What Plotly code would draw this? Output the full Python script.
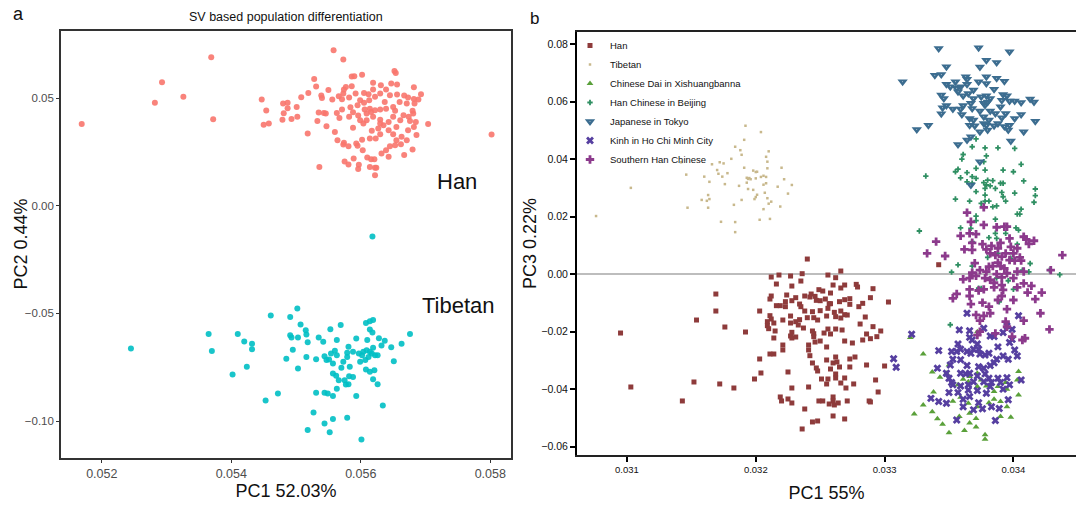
import plotly.graph_objects as go

# ---------------- Panel a : SV based PCA (PC1 vs PC2) ----------------
han_a = [
    (0.05169, 0.0381), (0.05369, 0.0691), (0.05293, 0.0575), (0.05282, 0.0479), (0.05326, 0.0507),
    (0.05372, 0.0403), (0.05802, 0.0332), (0.05558, 0.0724), (0.05573, 0.0680),
    (0.05447, 0.0494), (0.05454, 0.0443), (0.05450, 0.0377), (0.05458, 0.0383), (0.05480, 0.0476),
    (0.05487, 0.0479), (0.05487, 0.0454), (0.05481, 0.0431), (0.05479, 0.0400), (0.05493, 0.0404),
    (0.05501, 0.0460), (0.05502, 0.0414), (0.05508, 0.0505), (0.05519, 0.0525), (0.05518, 0.0336),
    (0.05528, 0.0590), (0.05531, 0.0555), (0.05550, 0.0539), (0.05539, 0.0513), (0.05540, 0.0502),
    (0.05535, 0.0434), (0.05543, 0.0432), (0.05546, 0.0429), (0.05533, 0.0395), (0.05547, 0.0370),
    (0.05560, 0.0344), (0.05556, 0.0494), (0.05566, 0.0510), (0.05573, 0.0522), (0.05571, 0.0496),
    (0.05574, 0.0541), (0.05577, 0.0553), (0.05586, 0.0601), (0.05590, 0.0603), (0.05602, 0.0610),
    (0.05586, 0.0556), (0.05592, 0.0522), (0.05582, 0.0504), (0.05599, 0.0491), (0.05605, 0.0525),
    (0.05612, 0.0519), (0.05619, 0.0572), (0.05619, 0.0541), (0.05631, 0.0561), (0.05639, 0.0541),
    (0.05647, 0.0569), (0.05656, 0.0564), (0.05652, 0.0627), (0.05654, 0.0618), (0.05682, 0.0552),
    (0.05693, 0.0519), (0.05689, 0.0494), (0.05682, 0.0497), (0.05673, 0.0504), (0.05667, 0.0513),
    (0.05656, 0.0518), (0.05645, 0.0514), (0.05630, 0.0522), (0.05622, 0.0507), (0.05613, 0.0491),
    (0.05605, 0.0479), (0.05595, 0.0468), (0.05584, 0.0459), (0.05571, 0.0448), (0.05563, 0.0432),
    (0.05567, 0.0409), (0.05582, 0.0414), (0.05588, 0.0435), (0.05596, 0.0420), (0.05599, 0.0398),
    (0.05609, 0.0429), (0.05616, 0.0437), (0.05622, 0.0445), (0.05630, 0.0448), (0.05639, 0.0452),
    (0.05650, 0.0460), (0.05660, 0.0483), (0.05671, 0.0476), (0.05680, 0.0442), (0.05681, 0.0429),
    (0.05676, 0.0395), (0.05685, 0.0390), (0.05682, 0.0367), (0.05686, 0.0330), (0.05673, 0.0352),
    (0.05671, 0.0305), (0.05663, 0.0321), (0.05662, 0.0287), (0.05655, 0.0305), (0.05653, 0.0282),
    (0.05645, 0.0277), (0.05639, 0.0259), (0.05632, 0.0243), (0.05643, 0.0228), (0.05667, 0.0236),
    (0.05680, 0.0262), (0.05704, 0.0381), (0.05588, 0.0363), (0.05604, 0.0383), (0.05617, 0.0349),
    (0.05627, 0.0360), (0.05635, 0.0375), (0.05643, 0.0352), (0.05650, 0.0333), (0.05630, 0.0333),
    (0.05623, 0.0313), (0.05614, 0.0313), (0.05602, 0.0308), (0.05593, 0.0290), (0.05595, 0.0279),
    (0.05603, 0.0259), (0.05574, 0.0293), (0.05573, 0.0285), (0.05581, 0.0277), (0.05564, 0.0305),
    (0.05610, 0.0225), (0.05616, 0.0217), (0.05621, 0.0217), (0.05589, 0.0220), (0.05575, 0.0206),
    (0.05581, 0.0192), (0.05597, 0.0191), (0.05596, 0.0171), (0.05614, 0.0181), (0.05622, 0.0177),
    (0.05624, 0.0177), (0.05622, 0.0143), (0.05536, 0.0181), (0.05609, 0.0398), (0.05619, 0.0414),
    (0.05630, 0.0401), (0.05650, 0.0414), (0.05661, 0.0398), (0.05655, 0.0367), (0.05643, 0.0390),
    (0.05630, 0.0383), (0.05614, 0.0452), (0.05606, 0.0448), (0.05637, 0.0483), (0.05653, 0.0442),
    (0.05666, 0.0421), (0.05674, 0.0414), (0.05683, 0.0476),
]

tibetan_a = [
    (0.05618, -0.0142), (0.05245, -0.0663), (0.05365, -0.0595), (0.05370, -0.0675), (0.05410, -0.0596),
    (0.05420, -0.0630), (0.05432, -0.0641), (0.05432, -0.0666), (0.05424, -0.0748), (0.05402, -0.0784),
    (0.05453, -0.0905), (0.05472, -0.0872), (0.05461, -0.0510), (0.05491, -0.0517), (0.05502, -0.0477),
    (0.05507, -0.0551), (0.05515, -0.0578), (0.05516, -0.0598), (0.05491, -0.0601), (0.05493, -0.0612),
    (0.05503, -0.0612), (0.05518, -0.0634), (0.05495, -0.0669), (0.05485, -0.0711), (0.05503, -0.0756),
    (0.05516, -0.0702), (0.05531, -0.0713), (0.05535, -0.0612), (0.05542, -0.0632), (0.05553, -0.0573),
    (0.05569, -0.0554), (0.05563, -0.0623), (0.05544, -0.0699), (0.05551, -0.0714), (0.05554, -0.0686),
    (0.05560, -0.0674), (0.05563, -0.0694), (0.05557, -0.0733), (0.05570, -0.0753), (0.05579, -0.0683),
    (0.05579, -0.0702), (0.05581, -0.0655), (0.05588, -0.0678), (0.05593, -0.0616), (0.05597, -0.0686),
    (0.05602, -0.0694), (0.05607, -0.0717), (0.05612, -0.0702), (0.05617, -0.0686), (0.05622, -0.0694),
    (0.05610, -0.0624), (0.05619, -0.0660), (0.05628, -0.0615), (0.05637, -0.0627), (0.05632, -0.0649),
    (0.05626, -0.0694), (0.05647, -0.0657), (0.05663, -0.0641), (0.05676, -0.0595), (0.05651, -0.0722),
    (0.05608, -0.0544), (0.05614, -0.0536), (0.05619, -0.0531), (0.05614, -0.0575), (0.05618, -0.0589),
    (0.05608, -0.0761), (0.05614, -0.0771), (0.05621, -0.0764), (0.05619, -0.0806), (0.05626, -0.0829),
    (0.05634, -0.0928), (0.05557, -0.0779), (0.05562, -0.0790), (0.05566, -0.0810), (0.05575, -0.0810),
    (0.05582, -0.0792), (0.05588, -0.0795), (0.05581, -0.0829), (0.05577, -0.0830), (0.05563, -0.0850),
    (0.05557, -0.0884), (0.05544, -0.0869), (0.05549, -0.0872), (0.05531, -0.0869), (0.05593, -0.0884),
    (0.05527, -0.0960), (0.05544, -0.1012), (0.05557, -0.0991), (0.05579, -0.0985), (0.05518, -0.1042),
    (0.05552, -0.1052), (0.05601, -0.1086), (0.05547, -0.0717), (0.05573, -0.0725), (0.05583, -0.0748),
    (0.05599, -0.0725), (0.05604, -0.0678), (0.05614, -0.0678), (0.05609, -0.0671),
]

# ---------------- Panel b : PC1 vs PC3 with 1000 Genomes EAS ----------------
han_b = [
    (0.03240, 0.00525), (0.03266, 0.00108), (0.03218, -0.00031), (0.03227, -0.00066), (0.03236, 0.00015),
    (0.03256, -0.00031), (0.03262, -0.00124), (0.03212, -0.00101), (0.03235, -0.00240), (0.03216, -0.00344),
    (0.03228, -0.00414), (0.03260, -0.00379), (0.03266, -0.00483), (0.03269, -0.00379), (0.03278, -0.00356),
    (0.03279, -0.00448), (0.03291, -0.00506), (0.03169, -0.00692), (0.03249, -0.00541), (0.03252, -0.00588),
    (0.03258, -0.00657), (0.03243, -0.00692), (0.03238, -0.00761), (0.03224, -0.00726), (0.03212, -0.00761),
    (0.03211, -0.00866), (0.03231, -0.00819), (0.03228, -0.00924), (0.03242, -0.00796), (0.03246, -0.00773),
    (0.03247, -0.00912), (0.03250, -0.00924), (0.03254, -0.00866), (0.03257, -0.01028), (0.03258, -0.01028),
    (0.03265, -0.00958), (0.03269, -0.00889), (0.03273, -0.00854), (0.03273, -0.01051), (0.03280, -0.01132),
    (0.03283, -0.01016), (0.03289, -0.00819), (0.03303, -0.00970), (0.03223, -0.00958), (0.03216, -0.01097),
    (0.03219, -0.01097), (0.03223, -0.01132), (0.03234, -0.01040), (0.03235, -0.01132), (0.03238, -0.01283),
    (0.03244, -0.01306), (0.03250, -0.01271), (0.03256, -0.01190), (0.03266, -0.01283), (0.03169, -0.01283),
    (0.03203, -0.01283), (0.03211, -0.01445), (0.03212, -0.01561), (0.03227, -0.01457), (0.03221, -0.01596),
    (0.03231, -0.01654), (0.03234, -0.01584), (0.03240, -0.01515), (0.03245, -0.01515), (0.03248, -0.01596),
    (0.03255, -0.01457), (0.03261, -0.01329), (0.03262, -0.01480), (0.03266, -0.01526), (0.03269, -0.01410),
    (0.03271, -0.01422), (0.03285, -0.01491), (0.03154, -0.01596), (0.03209, -0.01654), (0.03214, -0.01700),
    (0.03209, -0.01793), (0.03210, -0.01897), (0.03227, -0.01700), (0.03233, -0.01769), (0.03237, -0.01874),
    (0.03176, -0.01839), (0.03192, -0.02013), (0.03095, -0.02048), (0.03215, -0.01978), (0.03214, -0.02221),
    (0.03228, -0.02024), (0.03227, -0.02152), (0.03228, -0.02221), (0.03231, -0.02187), (0.03244, -0.01978),
    (0.03245, -0.02071), (0.03245, -0.02175), (0.03253, -0.02048), (0.03256, -0.01909), (0.03258, -0.02082),
    (0.03262, -0.01909), (0.03267, -0.01943), (0.03281, -0.01735), (0.03286, -0.02082), (0.03291, -0.01827),
    (0.03297, -0.01978), (0.03294, -0.02175), (0.03289, -0.02245), (0.03283, -0.02291), (0.03275, -0.02395),
    (0.03269, -0.02326), (0.03250, -0.02326), (0.03246, -0.02361), (0.03241, -0.02465), (0.03241, -0.02638),
    (0.03221, -0.02465), (0.03221, -0.02638), (0.03211, -0.02778), (0.03214, -0.02778), (0.03255, -0.02534),
    (0.03242, -0.02836), (0.03203, -0.02951), (0.03262, -0.02882), (0.03255, -0.02986), (0.03260, -0.03090),
    (0.03263, -0.03056), (0.03277, -0.02882), (0.03273, -0.02951), (0.03244, -0.03090), (0.03247, -0.03264),
    (0.03248, -0.03368), (0.03258, -0.03299), (0.03265, -0.03229), (0.03273, -0.03229), (0.03286, -0.03160),
    (0.03300, -0.03195), (0.03204, -0.03438), (0.03225, -0.03403), (0.03251, -0.03647), (0.03256, -0.03647),
    (0.03262, -0.03473), (0.03262, -0.03612), (0.03269, -0.03612), (0.03266, -0.03786), (0.03255, -0.03820),
    (0.03276, -0.03820), (0.03270, -0.03960), (0.03293, -0.03681), (0.03295, -0.04099), (0.03199, -0.03647),
    (0.03152, -0.03751), (0.03172, -0.03820), (0.03183, -0.03960), (0.03103, -0.03925), (0.03228, -0.03960),
    (0.03241, -0.03925), (0.03143, -0.04411), (0.03219, -0.04272), (0.03220, -0.04411), (0.03225, -0.04342),
    (0.03228, -0.04481), (0.03249, -0.04411), (0.03252, -0.04411), (0.03260, -0.04272), (0.03260, -0.04411),
    (0.03257, -0.04516), (0.03261, -0.04550), (0.03264, -0.04481), (0.03271, -0.04411), (0.03288, -0.04411),
    (0.03289, -0.04446), (0.03238, -0.04690), (0.03260, -0.04933), (0.03269, -0.05037), (0.03244, -0.05141),
    (0.03248, -0.05107), (0.03236, -0.05385), (0.03342, 0.00327),
]

tibetan_b = [
    (0.03076, 0.0202), (0.03103, 0.0300), (0.03142, 0.0389), (0.03146, 0.0346), (0.03147, 0.0231),
    (0.03158, 0.0258), (0.03160, 0.0339), (0.03162, 0.0255), (0.03163, 0.0231), (0.03163, 0.0275),
    (0.03164, 0.0261), (0.03164, 0.0321), (0.03166, 0.0382), (0.03170, 0.0362), (0.03172, 0.0389),
    (0.03171, 0.0349), (0.03175, 0.0385), (0.03174, 0.0339), (0.03176, 0.0313), (0.03178, 0.0351),
    (0.03181, 0.0401), (0.03173, 0.0182), (0.03184, 0.0181), (0.03184, 0.0146), (0.03183, 0.0241),
    (0.03187, 0.0307), (0.03188, 0.0431), (0.03189, 0.0415), (0.03191, 0.0467), (0.03192, 0.0516),
    (0.03191, 0.0370), (0.03189, 0.0258), (0.03193, 0.0318), (0.03193, 0.0335), (0.03194, 0.0331),
    (0.03195, 0.0334), (0.03196, 0.0330), (0.03194, 0.0296), (0.03198, 0.0293), (0.03198, 0.0360),
    (0.03200, 0.0355), (0.03201, 0.0356), (0.03200, 0.0333), (0.03200, 0.0268), (0.03199, 0.0261),
    (0.03201, 0.0276), (0.03203, 0.0189), (0.03204, 0.0494), (0.03204, 0.0338), (0.03206, 0.0342),
    (0.03208, 0.0338), (0.03206, 0.0311), (0.03207, 0.0283), (0.03208, 0.0408), (0.03209, 0.0391),
    (0.03210, 0.0427), (0.03209, 0.0368), (0.03208, 0.0316), (0.03209, 0.0264), (0.03210, 0.0245),
    (0.03212, 0.0252), (0.03206, 0.0226), (0.03211, 0.0192), (0.03217, 0.0304), (0.03184, 0.0443),
    (0.03222, 0.0330), (0.03225, 0.0280), (0.03220, 0.0370), (0.03228, 0.0310), (0.03219, 0.0235),
]

dai_b = [
    (0.03320, -0.0220), (0.03330, -0.0278), (0.03337, -0.0340), (0.03343, -0.0359), (0.03350, -0.0316),
    (0.03357, -0.0385), (0.03361, -0.0366), (0.03365, -0.0374), (0.03359, -0.0391), (0.03366, -0.0356),
    (0.03372, -0.0345), (0.03379, -0.0389), (0.03385, -0.0408), (0.03395, -0.0400), (0.03404, -0.0339),
    (0.03403, -0.0368), (0.03404, -0.0420), (0.03338, -0.0410), (0.03330, -0.0455), (0.03323, -0.0486),
    (0.03337, -0.0479), (0.03341, -0.0503), (0.03345, -0.0522), (0.03350, -0.0552), (0.03362, -0.0544),
    (0.03366, -0.0518), (0.03371, -0.0532), (0.03371, -0.0502), (0.03366, -0.0484), (0.03358, -0.0495),
    (0.03353, -0.0442), (0.03359, -0.0428), (0.03365, -0.0449), (0.03372, -0.0461), (0.03381, -0.0447),
    (0.03385, -0.0435), (0.03390, -0.0443), (0.03395, -0.0461), (0.03390, -0.0495), (0.03398, -0.0498),
    (0.03378, -0.0559), (0.03378, -0.0574), (0.03372, -0.0391), (0.03388, -0.0391), (0.03394, -0.0377),
    (0.03375, -0.0368), (0.03348, -0.0345), (0.03372, -0.0200),
]

beijing_b = [
    (0.03371, 0.0470), (0.03368, 0.0443), (0.03378, 0.0439), (0.03388, 0.0439), (0.03401, 0.0437),
    (0.03361, 0.0416), (0.03360, 0.0400), (0.03379, 0.0411), (0.03377, 0.0391), (0.03332, 0.0341),
    (0.03357, 0.0365), (0.03355, 0.0356), (0.03364, 0.0353), (0.03359, 0.0335), (0.03371, 0.0368),
    (0.03378, 0.0362), (0.03392, 0.0362), (0.03400, 0.0356), (0.03406, 0.0382), (0.03368, 0.0339),
    (0.03371, 0.0333), (0.03364, 0.0321), (0.03368, 0.0316), (0.03377, 0.0318), (0.03380, 0.0327),
    (0.03384, 0.0325), (0.03379, 0.0310), (0.03382, 0.0307), (0.03386, 0.0298), (0.03390, 0.0316),
    (0.03392, 0.0316), (0.03378, 0.0298), (0.03371, 0.0287), (0.03391, 0.0284), (0.03401, 0.0282),
    (0.03408, 0.0324), (0.03417, 0.0296), (0.03417, 0.0273), (0.03416, 0.0250), (0.03392, 0.0269),
    (0.03394, 0.0254), (0.03378, 0.0275), (0.03378, 0.0254), (0.03381, 0.0254), (0.03355, 0.0261),
    (0.03366, 0.0254), (0.03375, 0.0246), (0.03384, 0.0234), (0.03387, 0.0237), (0.03406, 0.0226),
    (0.03403, 0.0209), (0.03405, 0.0209), (0.03371, 0.0202), (0.03371, 0.0186), (0.03386, 0.0191),
    (0.03359, 0.0161), (0.03367, 0.0159), (0.03402, 0.0161), (0.03404, 0.0153), (0.03327, 0.0150),
    (0.03386, 0.0142), (0.03394, 0.0142), (0.03368, 0.0113), (0.03381, 0.0127), (0.03387, 0.0124),
    (0.03403, 0.0104), (0.03357, 0.0032), (0.03352, 0.0007), (0.03368, 0.0028), (0.03380, 0.0058),
    (0.03388, 0.0072), (0.03398, 0.0055), (0.03407, 0.0014), (0.03413, 0.0037), (0.03412, 0.0008),
    (0.03428, 0.0014), (0.03436, -0.0002), (0.03387, -0.0014), (0.03396, -0.0023), (0.03373, -0.0049),
    (0.03375, -0.0050), (0.03400, -0.0053), (0.03389, -0.0096), (0.03351, -0.0176),
]

japanese_b = [
    (0.03342, 0.0785), (0.03373, 0.0787), (0.03397, 0.0773), (0.03379, 0.0744), (0.03387, 0.0736),
    (0.03348, 0.0721), (0.03374, 0.0720), (0.03339, 0.0692), (0.03344, 0.0694), (0.03314, 0.0669),
    (0.03348, 0.0660), (0.03355, 0.0669), (0.03363, 0.0686), (0.03364, 0.0678), (0.03373, 0.0669),
    (0.03379, 0.0686), (0.03379, 0.0663), (0.03387, 0.0681), (0.03393, 0.0671), (0.03351, 0.0652),
    (0.03356, 0.0646), (0.03359, 0.0652), (0.03364, 0.0660), (0.03369, 0.0640), (0.03385, 0.0643),
    (0.03344, 0.0623), (0.03346, 0.0611), (0.03357, 0.0634), (0.03361, 0.0620), (0.03365, 0.0628),
    (0.03369, 0.0611), (0.03375, 0.0617), (0.03379, 0.0620), (0.03382, 0.0611), (0.03392, 0.0625),
    (0.03395, 0.0620), (0.03391, 0.0605), (0.03397, 0.0602), (0.03401, 0.0602), (0.03406, 0.0597),
    (0.03413, 0.0609), (0.03416, 0.0599), (0.03345, 0.0579), (0.03348, 0.0586), (0.03353, 0.0574),
    (0.03359, 0.0574), (0.03361, 0.0586), (0.03367, 0.0594), (0.03368, 0.0576), (0.03377, 0.0594),
    (0.03378, 0.0588), (0.03380, 0.0599), (0.03374, 0.0567), (0.03382, 0.0567), (0.03386, 0.0559),
    (0.03390, 0.0582), (0.03394, 0.0559), (0.03344, 0.0558), (0.03360, 0.0555), (0.03366, 0.0541),
    (0.03369, 0.0536), (0.03377, 0.0547), (0.03381, 0.0536), (0.03391, 0.0544), (0.03401, 0.0541),
    (0.03406, 0.0555), (0.03417, 0.0532), (0.03325, 0.0503), (0.03334, 0.0518), (0.03366, 0.0518),
    (0.03370, 0.0516), (0.03377, 0.0524), (0.03379, 0.0518), (0.03385, 0.0516), (0.03388, 0.0524),
    (0.03393, 0.0513), (0.03397, 0.0518), (0.03396, 0.0501), (0.03374, 0.0495), (0.03380, 0.0501),
    (0.03408, 0.0495), (0.03367, 0.0478), (0.03364, 0.0466), (0.03357, 0.0451), (0.03398, 0.0463),
    (0.03374, 0.0391), (0.03367, 0.0310),
]

kinh_b = [
    (0.03321, -0.0209), (0.03307, -0.0294), (0.03309, -0.0324), (0.03342, -0.0266), (0.03364, -0.0136),
    (0.03358, -0.0194), (0.03366, -0.0197), (0.03377, -0.0188), (0.03404, -0.0145), (0.03395, -0.0180),
    (0.03399, -0.0192), (0.03392, -0.0203), (0.03382, -0.0215), (0.03385, -0.0217), (0.03366, -0.0220),
    (0.03368, -0.0229), (0.03372, -0.0243), (0.03357, -0.0243), (0.03352, -0.0269), (0.03356, -0.0269),
    (0.03359, -0.0261), (0.03364, -0.0269), (0.03367, -0.0275), (0.03369, -0.0261), (0.03373, -0.0261),
    (0.03374, -0.0278), (0.03378, -0.0281), (0.03381, -0.0275), (0.03388, -0.0253), (0.03392, -0.0285),
    (0.03397, -0.0238), (0.03399, -0.0227), (0.03401, -0.0264), (0.03403, -0.0285), (0.03396, -0.0296),
    (0.03387, -0.0296), (0.03385, -0.0308), (0.03382, -0.0318), (0.03377, -0.0327), (0.03373, -0.0322),
    (0.03364, -0.0318), (0.03359, -0.0298), (0.03353, -0.0296), (0.03351, -0.0316), (0.03348, -0.0345),
    (0.03341, -0.0327), (0.03350, -0.0362), (0.03352, -0.0377), (0.03359, -0.0345), (0.03363, -0.0347),
    (0.03366, -0.0345), (0.03372, -0.0354), (0.03378, -0.0347), (0.03381, -0.0362), (0.03383, -0.0377),
    (0.03388, -0.0362), (0.03395, -0.0360), (0.03397, -0.0385), (0.03406, -0.0368), (0.03390, -0.0377),
    (0.03382, -0.0391), (0.03377, -0.0374), (0.03369, -0.0374), (0.03365, -0.0385), (0.03359, -0.0389),
    (0.03353, -0.0385), (0.03350, -0.0412), (0.03357, -0.0412), (0.03365, -0.0403), (0.03366, -0.0426),
    (0.03361, -0.0435), (0.03336, -0.0432), (0.03342, -0.0443), (0.03348, -0.0449), (0.03361, -0.0461),
    (0.03369, -0.0472), (0.03373, -0.0447), (0.03376, -0.0468), (0.03383, -0.0461), (0.03389, -0.0467),
    (0.03396, -0.0437), (0.03386, -0.0509), (0.03356, -0.0507), (0.03372, -0.0405), (0.03392, -0.0400),
    (0.03379, -0.0414),
]

southern_han_b = [
    (0.03364, 0.0214), (0.03377, 0.0232), (0.03367, 0.0182), (0.03377, 0.0171), (0.03387, 0.0163),
    (0.03393, 0.0165), (0.03395, 0.0165), (0.03359, 0.0133), (0.03366, 0.0142), (0.03371, 0.0139),
    (0.03340, 0.0113), (0.03333, 0.0072), (0.03347, 0.0063), (0.03362, 0.0086), (0.03368, 0.0084),
    (0.03368, 0.0109), (0.03376, 0.0104), (0.03379, 0.0086), (0.03383, 0.0098), (0.03388, 0.0090),
    (0.03390, 0.0109), (0.03397, 0.0124), (0.03398, 0.0095), (0.03403, 0.0090), (0.03408, 0.0130),
    (0.03410, 0.0121), (0.03416, 0.0116), (0.03412, 0.0105), (0.03382, 0.0072), (0.03386, 0.0066),
    (0.03391, 0.0061), (0.03394, 0.0072), (0.03400, 0.0072), (0.03405, 0.0058), (0.03406, 0.0047),
    (0.03401, 0.0047), (0.03397, 0.0049), (0.03388, 0.0040), (0.03390, 0.0028), (0.03393, 0.0020),
    (0.03384, 0.0028), (0.03381, 0.0026), (0.03370, 0.0038), (0.03368, 0.0005), (0.03374, 0.0014),
    (0.03379, 0.0009), (0.03387, 0.0000), (0.03395, 0.0003), (0.03403, 0.0009), (0.03408, 0.0009),
    (0.03429, 0.0014), (0.03438, 0.0066), (0.03361, -0.0018), (0.03366, -0.0014), (0.03371, -0.0006),
    (0.03378, -0.0014), (0.03382, -0.0020), (0.03385, -0.0030), (0.03391, -0.0011), (0.03400, -0.0014),
    (0.03408, -0.0032), (0.03414, -0.0041), (0.03422, -0.0064), (0.03417, -0.0087), (0.03411, -0.0064),
    (0.03403, -0.0046), (0.03392, -0.0055), (0.03391, -0.0038), (0.03385, -0.0046), (0.03377, -0.0053),
    (0.03373, -0.0057), (0.03366, -0.0053), (0.03366, -0.0076), (0.03356, -0.0069), (0.03353, -0.0084),
    (0.03376, -0.0099), (0.03381, -0.0113), (0.03388, -0.0090), (0.03391, -0.0076), (0.03400, -0.0090),
    (0.03395, -0.0122), (0.03382, -0.0136), (0.03377, -0.0145), (0.03371, -0.0142), (0.03367, -0.0104),
    (0.03374, -0.0162), (0.03421, -0.0136), (0.03408, -0.0162), (0.03394, -0.0165), (0.03428, -0.0192),
    (0.03409, -0.0223), (0.03407, -0.0229), (0.03399, -0.0217), (0.03372, -0.0212), (0.03374, -0.0200),
    (0.03386, -0.0206), (0.03395, -0.0183),
]

a_x_ticks = [0.052, 0.054, 0.056, 0.058]
a_y_ticks = [0.05, 0.00, -0.05, -0.10]
b_x_ticks = [0.031, 0.032, 0.033, 0.034]
b_y_ticks = [0.08, 0.06, 0.04, 0.02, 0.00, -0.02, -0.04, -0.06]


def xs(pts):
    return [p[0] for p in pts]


def ys(pts):
    return [p[1] for p in pts]


FONT = "Arial, Liberation Sans, Helvetica, sans-serif"

fig = go.Figure()

# panel a traces
fig.add_trace(go.Scatter(x=xs(han_a), y=ys(han_a), mode="markers", name="Han",
                         marker=dict(color="#F8766D", size=6, opacity=0.9, line=dict(width=0)),
                         xaxis="x", yaxis="y", showlegend=False))
fig.add_trace(go.Scatter(x=xs(tibetan_a), y=ys(tibetan_a), mode="markers", name="Tibetan",
                         marker=dict(color="#00BFC4", size=6, opacity=0.9, line=dict(width=0)),
                         xaxis="x", yaxis="y", showlegend=False))

# panel b traces
b_series = [
    ("Han", han_b, "square", 5, "#8E3B3B"),
    ("Tibetan", tibetan_b, "square", 2.5, "#C8B88C"),
    ("Chinese Dai in Xishuangbanna", dai_b, "triangle-up", 6, "#5AA03A"),
    ("Han Chinese in Beijing", beijing_b, "cross", 4.5, "#2F8F62"),
    ("Japanese in Tokyo", japanese_b, "triangle-down-dot", 9, "#3C6D90"),
    ("Kinh in Ho Chi Minh City", kinh_b, "x", 7, "#563FA0"),
    ("Southern Han Chinese", southern_han_b, "cross", 7, "#8C3A8C"),
]
for name, pts, sym, size, col in b_series:
    fig.add_trace(go.Scatter(x=xs(pts), y=ys(pts), mode="markers", name=name,
                             marker=dict(symbol=sym, size=size, color=col, line=dict(width=0)),
                             xaxis="x2", yaxis="y2"))

fig.update_layout(
    width=1076, height=506,
    margin=dict(l=0, r=0, t=0, b=0, autoexpand=False),
    paper_bgcolor="white", plot_bgcolor="white",
    font=dict(family=FONT, color="#111111"),
    xaxis=dict(domain=[61 / 1076, 511 / 1076], range=[0.05137, 0.05832], automargin=False,
               tickvals=a_x_ticks, tickformat=".3f", ticks="outside", ticklen=3,
               tickcolor="#333333", tickfont=dict(size=12.5, color="#4D4D4D"),
               showline=True, linecolor="#333333", linewidth=1.6, mirror=True,
               showgrid=False, zeroline=False,
               title=dict(text="PC1 52.03%", font=dict(size=18, color="#111111"), standoff=5)),
    yaxis=dict(domain=[1 - 458 / 506, 1 - 31 / 506], range=[-0.1172, 0.0813], automargin=False,
               tickvals=a_y_ticks, tickformat=".2f", ticks="outside", ticklen=3,
               tickcolor="#333333", tickfont=dict(size=11.5, color="#4D4D4D"),
               showline=True, linecolor="#333333", linewidth=1.6, mirror=True,
               showgrid=False, zeroline=False),
    xaxis2=dict(domain=[577 / 1076, 1.0], range=[0.030612, 0.034486], anchor="y2", automargin=False,
                tickvals=b_x_ticks, tickformat=".3f", ticks="outside", ticklen=5,
                tickwidth=1.5, tickcolor="#000000", tickfont=dict(size=9.5, color="#111111"),
                showline=True, linecolor="#222222", linewidth=1.6, mirror=True,
                showgrid=False, zeroline=False,
                title=dict(text="PC1 55%", font=dict(size=18, color="#111111"), standoff=12)),
    yaxis2=dict(domain=[1 - 455 / 506, 1 - 32 / 506], range=[-0.0629, 0.0842], anchor="x2",
                automargin=False,
                tickvals=b_y_ticks, tickformat=".2f", ticks="outside", ticklen=5,
                tickwidth=1.5, tickcolor="#000000", tickfont=dict(size=10.5, color="#111111"),
                showline=True, linecolor="#000000", linewidth=2,
                showgrid=False, zeroline=True, zerolinecolor="#BDBDBD", zerolinewidth=2,
                title=dict(text="PC3 0.22%", font=dict(size=18, color="#111111"), standoff=0)),
    legend=dict(x=570 / 1076, y=1 - 31 / 506, xanchor="left", yanchor="top",
                bgcolor="rgba(0,0,0,0)", font=dict(size=9.5, color="#111111"),
                tracegroupgap=0, itemsizing="trace"),
    annotations=[
        dict(text="SV based population differentiation", x=286 / 1076, y=1 - 17 / 506,
             xref="paper", yref="paper", xanchor="center", yanchor="middle", showarrow=False,
             font=dict(size=12.5, color="#111111")),
        dict(text="a", x=18 / 1076, y=1 - 14 / 506, xref="paper", yref="paper",
             xanchor="center", yanchor="middle", showarrow=False,
             font=dict(size=18, color="#111111")),
        dict(text="b", x=534 / 1076, y=1 - 18 / 506, xref="paper", yref="paper",
             xanchor="center", yanchor="middle", showarrow=False,
             font=dict(size=17, color="#111111")),
        dict(text="PC2 0.44%", x=20 / 1076, y=0.5 * ((1 - 458 / 506) + (1 - 31 / 506)),
             xref="paper", yref="paper", xanchor="center", yanchor="middle", textangle=-90,
             showarrow=False, font=dict(size=18, color="#111111")),
        dict(text="Han", x=0.05748, y=0.01148, xref="x", yref="y", showarrow=False,
             xanchor="center", yanchor="middle", font=dict(size=22, color="#111111")),
        dict(text="Tibetan", x=0.05751, y=-0.0461, xref="x", yref="y", showarrow=False,
             xanchor="center", yanchor="middle", font=dict(size=22, color="#111111")),
    ],
)

fig.write_html("out.html", config={"displayModeBar": False},
               post_script="document.body.style.margin='0px';")
